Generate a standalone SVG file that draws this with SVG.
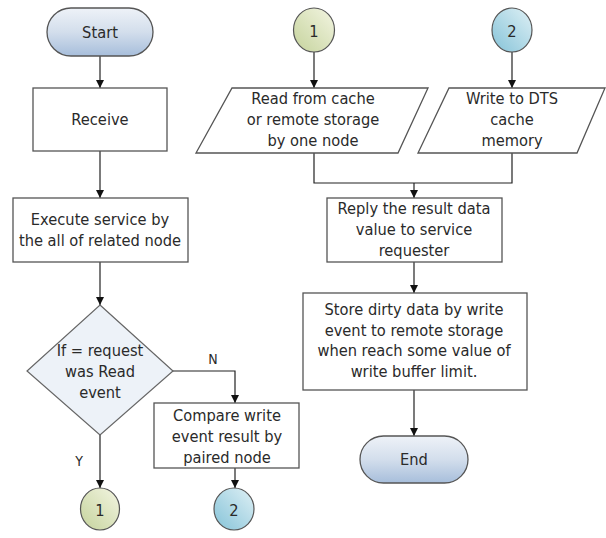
<svg xmlns="http://www.w3.org/2000/svg" width="606" height="538" viewBox="0 0 606 538">
  <defs>
    <linearGradient id="termFill" x1="0" y1="0" x2="0" y2="1">
      <stop offset="0" stop-color="#eef2f8"/>
      <stop offset="0.5" stop-color="#d3deec"/>
      <stop offset="1" stop-color="#a7bedb"/>
    </linearGradient>
    <linearGradient id="greenFill" x1="1" y1="0" x2="0" y2="1">
      <stop offset="0" stop-color="#f3f5e2"/>
      <stop offset="1" stop-color="#c5d39c"/>
    </linearGradient>
    <linearGradient id="blueFill" x1="1" y1="0" x2="0" y2="1">
      <stop offset="0" stop-color="#dff0f5"/>
      <stop offset="1" stop-color="#85c3d8"/>
    </linearGradient>
    <marker id="arrow" viewBox="0 0 10 10" refX="10" refY="5" markerWidth="8" markerHeight="8" markerUnits="userSpaceOnUse" orient="auto">
      <path d="M0,0 L10,5 L0,10 z" fill="#111"/>
    </marker>
  </defs>
  <style>
    .box { fill: #ffffff; stroke: #555555; stroke-width: 1.3; }
    .term { fill: url(#termFill); stroke: #555555; stroke-width: 1.3; }
    .dia { fill: #edf2f8; stroke: #666666; stroke-width: 1.2; }
    .c1 { fill: url(#greenFill); stroke: #555555; stroke-width: 1.2; }
    .c2 { fill: url(#blueFill); stroke: #555555; stroke-width: 1.2; }
    .wire { fill: none; stroke: #222222; stroke-width: 1.2; }
    .arr { marker-end: url(#arrow); }
    text { font-family: "DejaVu Sans Condensed", "DejaVu Sans", Verdana, sans-serif; font-stretch: condensed; font-size: 16.3px; fill: #2a2a2a; text-anchor: middle; dominant-baseline: central; }
    .lbl { font-size: 14px; }
  </style>
  <rect width="606" height="538" fill="#ffffff"/>

  <!-- connectors -->
  <g id="connectors">
    <path class="wire arr" d="M100,56 V88"/>
    <path class="wire arr" d="M100,151 V198"/>
    <path class="wire arr" d="M100,262 V305"/>
    <path class="wire arr" d="M173,371 H235 V403"/>
    <path class="wire arr" d="M100,435 V488"/>
    <path class="wire arr" d="M235,468 V488"/>
    <path class="wire arr" d="M314,52 V88"/>
    <path class="wire arr" d="M512,52 V88"/>
    <path class="wire" d="M314,153 V183 H512 V153"/>
    <path class="wire arr" d="M414,183 V198"/>
    <path class="wire arr" d="M414,262 V293"/>
    <path class="wire arr" d="M414,390 V436"/>
    <text class="lbl" x="213" y="359">N</text>
    <text class="lbl" x="79" y="461">Y</text>
  </g>

  <g id="start">
    <rect class="term" x="47" y="8" width="106" height="48" rx="24" ry="24"/>
    <text x="100" y="32">Start</text>
  </g>

  <g id="receive">
    <rect class="box" x="33" y="88" width="134" height="63"/>
    <text x="100" y="119">Receive</text>
  </g>

  <g id="execute">
    <rect class="box" x="13" y="198" width="175" height="64"/>
    <text x="100" y="219">Execute service by</text>
    <text x="100" y="240">the all of related node</text>
  </g>

  <g id="decision">
    <polygon class="dia" points="100,305 173,371 100,435 27,371"/>
    <text x="100" y="350">If = request</text>
    <text x="100" y="371">was Read</text>
    <text x="100" y="392">event</text>
  </g>

  <g id="compare">
    <rect class="box" x="154" y="403" width="145" height="65"/>
    <text x="227" y="415">Compare write</text>
    <text x="227" y="436">event result by</text>
    <text x="227" y="457">paired node</text>
  </g>

  <g id="connector-out-1">
    <ellipse class="c1" cx="100" cy="509" rx="19.5" ry="21"/>
    <text x="100" y="510">1</text>
  </g>

  <g id="connector-out-2">
    <ellipse class="c2" cx="234" cy="509" rx="20" ry="21"/>
    <text x="234" y="510">2</text>
  </g>

  <g id="connector-in-1">
    <ellipse class="c1" cx="314" cy="30" rx="20.5" ry="22"/>
    <text x="314" y="31">1</text>
  </g>

  <g id="connector-in-2">
    <ellipse class="c2" cx="512" cy="30" rx="20" ry="22"/>
    <text x="512" y="31">2</text>
  </g>

  <g id="read-cache">
    <polygon class="box" points="232,88 428,88 398,153 196,153"/>
    <text x="313" y="98">Read from cache</text>
    <text x="313" y="119">or remote storage</text>
    <text x="313" y="140">by one node</text>
  </g>

  <g id="write-dts">
    <polygon class="box" points="449,88 605,88 577,153 418,153"/>
    <text x="512" y="98">Write to DTS</text>
    <text x="512" y="119">cache</text>
    <text x="512" y="140">memory</text>
  </g>

  <g id="reply">
    <rect class="box" x="327" y="198" width="175" height="64"/>
    <text x="414" y="208">Reply the result data</text>
    <text x="414" y="229">value to service</text>
    <text x="414" y="250">requester</text>
  </g>

  <g id="store">
    <rect class="box" x="303" y="293" width="224" height="97"/>
    <text x="414" y="309">Store dirty data by write</text>
    <text x="414" y="330">event to remote storage</text>
    <text x="414" y="350">when reach some value of</text>
    <text x="414" y="371">write buffer limit.</text>
  </g>

  <g id="end">
    <rect class="term" x="360" y="436" width="108" height="47" rx="23.5" ry="23.5"/>
    <text x="414" y="459">End</text>
  </g>
</svg>
